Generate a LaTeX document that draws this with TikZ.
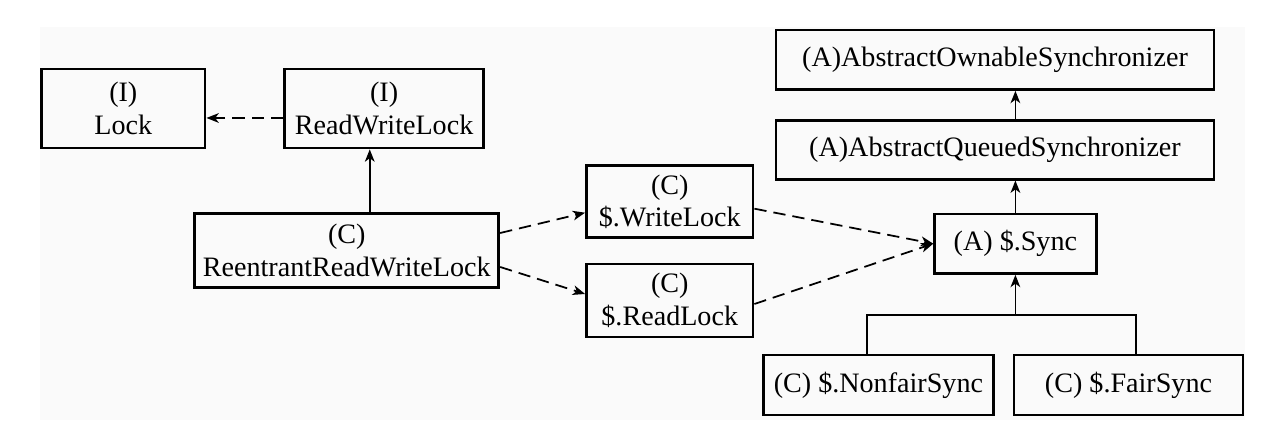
\documentclass[tikz,border=0pt]{standalone}
\usepackage{fontspec}
\setmainfont{Liberation Serif}
\usetikzlibrary{arrows.meta}

\begin{document}
\begin{tikzpicture}[box/.style={draw,line width=1.6pt,inner sep=0pt,
        align=center,font=\fontsize{16}{18.5}\selectfont},arr/.style={line
        width=1pt,-{Stealth[length=7pt,width=5.5pt,inset=2pt]}}]

    \useasboundingbox (0,0) rectangle (25.6,8.96);
    \fill[black!2] (0.8,0.56) rectangle (24.9,8.42);

    % the classes
    \tikzstyle{darr}=[arr,dash pattern=on 7pt off 4pt]

    \node[box,minimum width=3.27cm,minimum height=1.58cm] (lock) at (2.466,6.79) {(I)\\Lock};
    \node[box,minimum width=3.98cm,minimum height=1.58cm] (rwl) at (7.682,6.79) {(I)\\ReadWriteLock};
    \node[box,minimum width=6.08cm,minimum height=1.49cm] (rrwl) at (6.935,3.95) {(C)\\ReentrantReadWriteLock};
    \node[box,minimum width=3.33cm,minimum height=1.44cm] (wlock) at (13.395,4.926) {(C)\\\$.WriteLock};
    \node[box,minimum width=3.33cm,minimum height=1.46cm] (rlock) at (13.395,2.95) {(C)\\\$.ReadLock};
    \node[box,minimum width=8.76cm,minimum height=1.19cm] (aos) at (19.9,7.766) {(A)AbstractOwnableSynchronizer};
    \node[box,minimum width=8.76cm,minimum height=1.17cm] (aqs) at (19.9,5.962) {(A)AbstractQueuedSynchronizer};
    \node[box,minimum width=3.23cm,minimum height=1.19cm] (sync) at (20.308,4.086) {(A) \$.Sync};
    \node[box,minimum width=4.59cm,minimum height=1.2cm] (nonfair) at (17.568,1.26) {(C) \$.NonfairSync};
    \node[box,minimum width=4.58cm,minimum height=1.2cm] (fair) at (22.57,1.26) {(C) \$.FairSync};

    % the links
    \draw[darr] ([yshift=-0.19cm]rwl.west) -- ([yshift=-0.19cm]rwl.west -| lock.east);
    \draw[arr] ([xshift=0.46cm]rrwl.north) -- ([xshift=0.46cm]rrwl.north |- rwl.south);
    \draw[darr] ([yshift=0.35cm]rrwl.east) -- ([yshift=-0.22cm]wlock.west);
    \draw[darr] ([yshift=-0.33cm]rrwl.east) -- ([yshift=0.13cm]rlock.west);
    \draw[darr] ([yshift=-0.14cm]wlock.east) -- (sync.west);
    \draw[darr] ([yshift=-0.07cm]rlock.east) -- (sync.west);
    \draw[arr] (sync.north) -- (sync.north |- aqs.south);
    \draw[arr] (sync.north |- aqs.north) -- (sync.north |- aos.south);
    \coordinate (fork) at ([yshift=-0.8cm]sync.south);
    \draw[line width=1pt] ([xshift=-0.23cm]nonfair.north) |- (fork) -| ([xshift=0.15cm]fair.north);
    \draw[arr] (fork) -- (sync.south);

  \end{tikzpicture}
\end{document}
